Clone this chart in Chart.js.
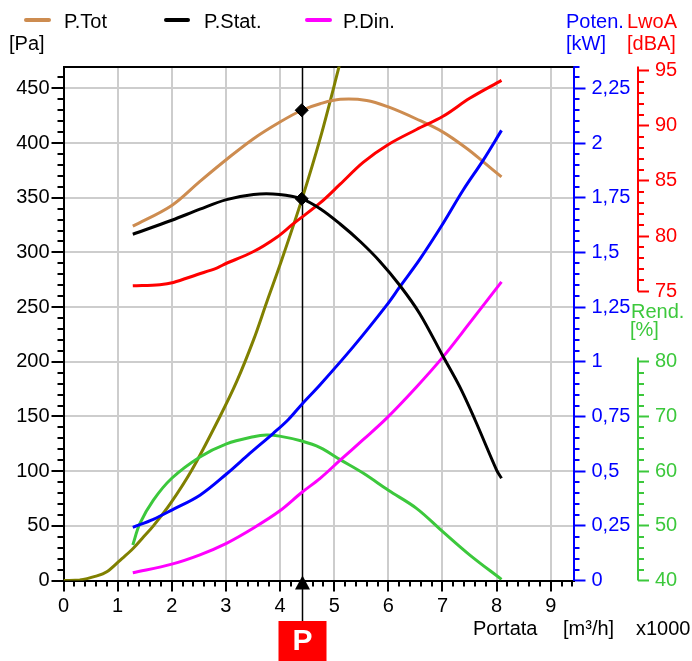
<!DOCTYPE html>
<html><head><meta charset="utf-8">
<script src="https://cdn.jsdelivr.net/npm/chart.js@4.4.1/dist/chart.umd.min.js"></script>
<style>
html,body{margin:0;padding:0;background:#fff;}
#wrap{position:relative;width:692px;height:661px;overflow:hidden;font-family:"Liberation Sans",Arial,sans-serif;}
#c{position:absolute;left:0;top:0;}
.t{position:absolute;font-size:20px;line-height:20px;white-space:nowrap;}
.sw{position:absolute;height:4px;border-radius:2px;}
</style></head><body>
<div id="wrap">
<canvas id="c" width="692" height="661"></canvas>
<div class="sw" style="left:24px;top:18px;width:27px;background:#CD8C50"></div>
<div class="t" style="left:64px;top:11px;">P.Tot</div>
<div class="sw" style="left:164px;top:18px;width:26px;background:#000"></div>
<div class="t" style="left:204px;top:11px;">P.Stat.</div>
<div class="sw" style="left:305px;top:18px;width:27px;background:#FF00FF"></div>
<div class="t" style="left:343px;top:11px;">P.Din.</div>
<div class="t" style="left:9px;top:33px;">[Pa]</div>
<div class="t" style="left:566px;top:11px;color:#0000FF">Poten.</div>
<div class="t" style="left:627px;top:11px;color:#FF0000">LwoA</div>
<div class="t" style="left:566px;top:33px;color:#0000FF">[kW]</div>
<div class="t" style="left:627px;top:33px;color:#FF0000">[dBA]</div>
<div class="t" style="left:631px;top:301px;color:#3CC83C">Rend.</div>
<div class="t" style="left:630px;top:319px;color:#3CC83C">[%]</div>
<div class="t" style="left:473px;top:618px;">Portata</div>
<div class="t" style="left:563px;top:618px;">[m³/h]</div>
<div class="t" style="left:636px;top:618px;">x1000</div>
</div>
<script>
// ---- data (flow in m3/h x1000) ----
const Q_TOT = [1.28, 2.0, 2.52, 3.01, 3.51, 3.99, 4.40, 4.74, 5.11, 5.6, 6.0, 6.52, 7.01, 7.45, 7.75, 8.09];
const P_TOT = [324, 343, 365, 385, 404, 419, 430, 436, 440, 439, 433, 422, 410, 395, 383, 369];

const Q_STAT = [1.28, 2.0, 2.52, 3.01, 3.51, 3.99, 4.40, 4.74, 5.11, 5.48, 5.84, 6.21, 6.58, 7.01, 7.32, 7.6, 8.0, 8.09];
const P_STAT = [316.6, 329.4, 339.5, 348.3, 353, 353, 349, 340, 326, 310, 292, 270, 244, 205, 177, 147, 101, 93.4];

const Q_DIN = [1.28, 2.0, 2.52, 3.01, 3.51, 3.99, 4.40, 4.74, 5.11, 5.54, 5.97, 6.52, 7.01, 7.51, 8.09];
const P_DIN = [7.1, 15, 23.5, 34, 48, 63.5, 80.5, 93.4, 110, 129, 148.5, 177, 204.5, 236, 273];

const Q_POW = [1.28, 1.66, 2.0, 2.52, 3.01, 3.44, 3.87, 4.15, 4.40, 4.74, 5.35, 5.97, 6.21, 6.58, 7.01, 7.38, 7.75, 8.09];
const POWER_KW = [0.243, 0.28, 0.322, 0.39, 0.487, 0.581, 0.672, 0.735, 0.805, 0.895, 1.068, 1.259, 1.342, 1.468, 1.632, 1.784, 1.921, 2.058];

const Q_LWA = [1.28, 1.78, 2.03, 2.46, 2.83, 2.95, 3.51, 3.94, 4.24, 4.74, 5.11, 5.54, 6.0, 6.52, 7.01, 7.51, 8.09];
const LWA_DBA = [75.5, 75.6, 75.8, 76.5, 77.1, 77.4, 78.6, 79.9, 81.1, 83.0, 84.7, 86.7, 88.3, 89.65, 90.85, 92.5, 94.1];

const Q_REND = [1.28, 1.41, 1.66, 2.0, 2.52, 3.01, 3.51, 3.75, 3.99, 4.40, 4.74, 5.11, 5.54, 6.0, 6.52, 7.01, 7.5, 8.09];
const REND_PCT = [46.5, 50.4, 54.7, 58.7, 62.6, 65.0, 66.3, 66.6, 66.4, 65.5, 64.3, 62.1, 59.6, 56.5, 53.2, 48.9, 44.7, 40.2];

const Q_SYS = [0, 0.3, 0.6, 0.8, 1.05, 1.28, 1.48, 1.66, 1.97, 2.37, 2.89, 3.2, 3.51, 3.75, 4.03, 4.40, 4.74, 5.08, 5.2];
const P_SYS = [0, 0.5, 4, 8, 18.7, 29, 40, 50, 70, 101, 150, 182, 220, 254, 293, 348, 404, 468, 492];

const OP_Q = 4.40, OP_PTOT = 430, OP_PSTAT = 349;

// ---- ticks ----
const X_TICKS = [0,1,2,3,4,5,6,7,8,9];
const PA_TICKS = [0,50,100,150,200,250,300,350,400,450];
const KW_TICKS = [0,0.25,0.5,0.75,1,1.25,1.5,1.75,2,2.25];
const DBA_TICKS = [75,80,85,90,95];
const REND_TICKS = [40,50,60,70,80];

const FONT = '"Liberation Sans", Arial, sans-serif';
Chart.defaults.font.family = FONT;
Chart.defaults.font.size = 20;

const pts = (xs, ys) => xs.map((x, i) => ({x, y: ys[i]}));
const line = (label, xs, ys, color, axis) => ({
  label, data: pts(xs, ys), yAxisID: axis, showLine: true, borderColor: color,
  backgroundColor: color, borderWidth: 3, pointRadius: 0, tension: 0.35
});

function minor(ctx, scale, from, to, step, majors, len, side, color, base) {
  ctx.save(); ctx.strokeStyle = color; ctx.lineWidth = 2; ctx.beginPath();
  const n = Math.round((to - from) / step);
  for (let i = 0; i <= n; i++) {
    const v = from + i * step;
    if (majors.some(m => Math.abs(m - v) < 1e-6)) continue;
    const p = Math.round(scale.getPixelForValue(v));
    if (side === 'down') { ctx.moveTo(p, base); ctx.lineTo(p, base + len); }
    else if (side === 'left') { ctx.moveTo(base, p); ctx.lineTo(base - len, p); }
    else { ctx.moveTo(base, p); ctx.lineTo(base + len, p); }
  }
  ctx.stroke(); ctx.restore();
}

const decor = {
  id: 'decor',
  afterLayout(chart) {
    const r = chart.scales.db, g = chart.scales.eff;
    g.left = r.left; g.right = r.right; g.width = r.width;
  },
  beforeDatasetsDraw(chart) {
    const {ctx, chartArea: a, scales: s} = chart;
    ctx.save(); ctx.strokeStyle = '#000'; ctx.lineWidth = 2;
    ctx.beginPath(); ctx.moveTo(a.left, Math.round(a.top)); ctx.lineTo(a.right, Math.round(a.top)); ctx.stroke();
    ctx.restore();
    minor(ctx, s.x, 0, 9.4, 0.2, X_TICKS, 6, 'down', '#000', a.bottom);
    minor(ctx, s.pa, 0, 460, 10, PA_TICKS, 6, 'left', '#000', a.left);
    minor(ctx, s.kw, 0, 2.35, 0.05, KW_TICKS, 6, 'right', '#0000FF', a.right);
    const rx = Math.round(s.db.left);
    minor(ctx, s.db, 75, 95, 1, DBA_TICKS, 6, 'right', '#FF0000', rx);
    minor(ctx, s.eff, 40, 80, 2, REND_TICKS, 6, 'right', '#3CC83C', rx);
    ctx.save(); ctx.lineWidth = 2;
    ctx.strokeStyle = '#FF0000'; ctx.beginPath();
    ctx.moveTo(rx, a.top); ctx.lineTo(rx, s.db.getPixelForValue(75)); ctx.stroke();
    ctx.strokeStyle = '#3CC83C'; ctx.beginPath();
    ctx.moveTo(rx, s.eff.getPixelForValue(80.8)); ctx.lineTo(rx, s.eff.getPixelForValue(40)); ctx.stroke();
    const px = Math.round(s.x.getPixelForValue(OP_Q)) + 0.5;
    ctx.strokeStyle = '#000'; ctx.lineWidth = 1.5; ctx.beginPath();
    ctx.moveTo(px, a.top); ctx.lineTo(px, 622); ctx.stroke();
    ctx.restore();
  },
  afterDraw(chart) {
    const {ctx, scales: s} = chart;
    const px = Math.round(s.x.getPixelForValue(OP_Q)) + 0.5;
    const py = s.pa.getPixelForValue(0);
    ctx.save();
    ctx.fillStyle = '#000';
    ctx.beginPath(); ctx.moveTo(px, py - 5); ctx.lineTo(px + 7.5, py + 9); ctx.lineTo(px - 7.5, py + 9); ctx.closePath(); ctx.fill();
    ctx.fillStyle = '#FF0000';
    ctx.fillRect(px - 24, 621, 48, 40);
    ctx.fillStyle = '#FFFFFF'; ctx.font = 'bold 30px ' + FONT;
    ctx.textAlign = 'center'; ctx.textBaseline = 'middle';
    ctx.fillText('P', px, 642);
    ctx.restore();
  }
};

const gridCol = '#cdcdcd';
new Chart(document.getElementById('c'), {
  type: 'scatter',
  data: {
    datasets: [
      {label: 'OP', data: [{x: OP_Q, y: OP_PTOT}, {x: OP_Q, y: OP_PSTAT}], yAxisID: 'pa',
       pointStyle: 'rectRot', pointRadius: 6.5, backgroundColor: '#000', borderColor: '#000', borderWidth: 1, showLine: false},
      line('P.Stat.', Q_STAT, P_STAT, '#000000', 'pa'),
      line('LwoA', Q_LWA, LWA_DBA, '#FF0000', 'db'),
      line('Poten.', Q_POW, POWER_KW, '#0000FF', 'kw'),
      line('P.Tot', Q_TOT, P_TOT, '#CD8C50', 'pa'),
      line('P.Din.', Q_DIN, P_DIN, '#FF00FF', 'pa'),
      line('Rend.', Q_REND, REND_PCT, '#3CC83C', 'eff'),
      line('Impianto', Q_SYS, P_SYS, '#808000', 'pa')
    ]
  },
  options: {
    responsive: false, animation: false, events: [],
    layout: {padding: {left: 0, right: 0, top: 66.5, bottom: 40.5}},
    plugins: {legend: {display: false}, tooltip: {enabled: false}},
    scales: {
      x: {type: 'linear', position: 'bottom', min: 0, max: 9.42,
        afterBuildTicks: sc => { sc.ticks = X_TICKS.map(v => ({value: v})); },
        afterFit: sc => { sc.height = 40; },
        grid: {color: gridCol, lineWidth: 2, tickLength: 11, tickColor: '#000', tickWidth: 2},
        border: {color: '#000', width: 2},
        ticks: {color: '#000', padding: 3, maxRotation: 0, autoSkip: false, callback: v => String(v)}},
      pa: {type: 'linear', position: 'left', min: 0, max: 470,
        afterBuildTicks: sc => { sc.ticks = PA_TICKS.map(v => ({value: v})); },
        afterFit: sc => { sc.width = 63.5; },
        grid: {color: gridCol, lineWidth: 2, tickLength: 12, tickColor: '#000', tickWidth: 2},
        border: {color: '#000', width: 2},
        ticks: {color: '#000', padding: 2, autoSkip: false, callback: v => String(v)}},
      kw: {type: 'linear', position: 'right', weight: 0, min: 0, max: 2.35,
        afterBuildTicks: sc => { sc.ticks = KW_TICKS.map(v => ({value: v})); },
        afterFit: sc => { sc.width = 64.5; },
        grid: {drawOnChartArea: false, tickLength: 12, tickColor: '#0000FF', tickWidth: 2},
        border: {color: '#0000FF', width: 2},
        ticks: {color: '#0000FF', padding: 6, autoSkip: false, callback: v => String(v).replace('.', ',')}},
      db: {type: 'linear', position: 'right', weight: 1, min: 48.8, max: 95.36,
        afterBuildTicks: sc => { sc.ticks = DBA_TICKS.map(v => ({value: v})); },
        afterFit: sc => { sc.width = 54; },
        grid: {drawOnChartArea: false, tickLength: 11, tickColor: '#FF0000', tickWidth: 2},
        border: {display: false},
        ticks: {color: '#FF0000', padding: 6, autoSkip: false, callback: v => String(v)}},
      eff: {type: 'linear', position: 'right', weight: 2, min: 40, max: 134,
        afterBuildTicks: sc => { sc.ticks = REND_TICKS.map(v => ({value: v})); },
        afterFit: sc => { sc.width = 0; },
        grid: {drawOnChartArea: false, tickLength: 11, tickColor: '#3CC83C', tickWidth: 2},
        border: {display: false},
        ticks: {color: '#3CC83C', padding: 6, autoSkip: false, callback: v => String(v)}}
    }
  },
  plugins: [decor]
});
</script>
</body></html>
